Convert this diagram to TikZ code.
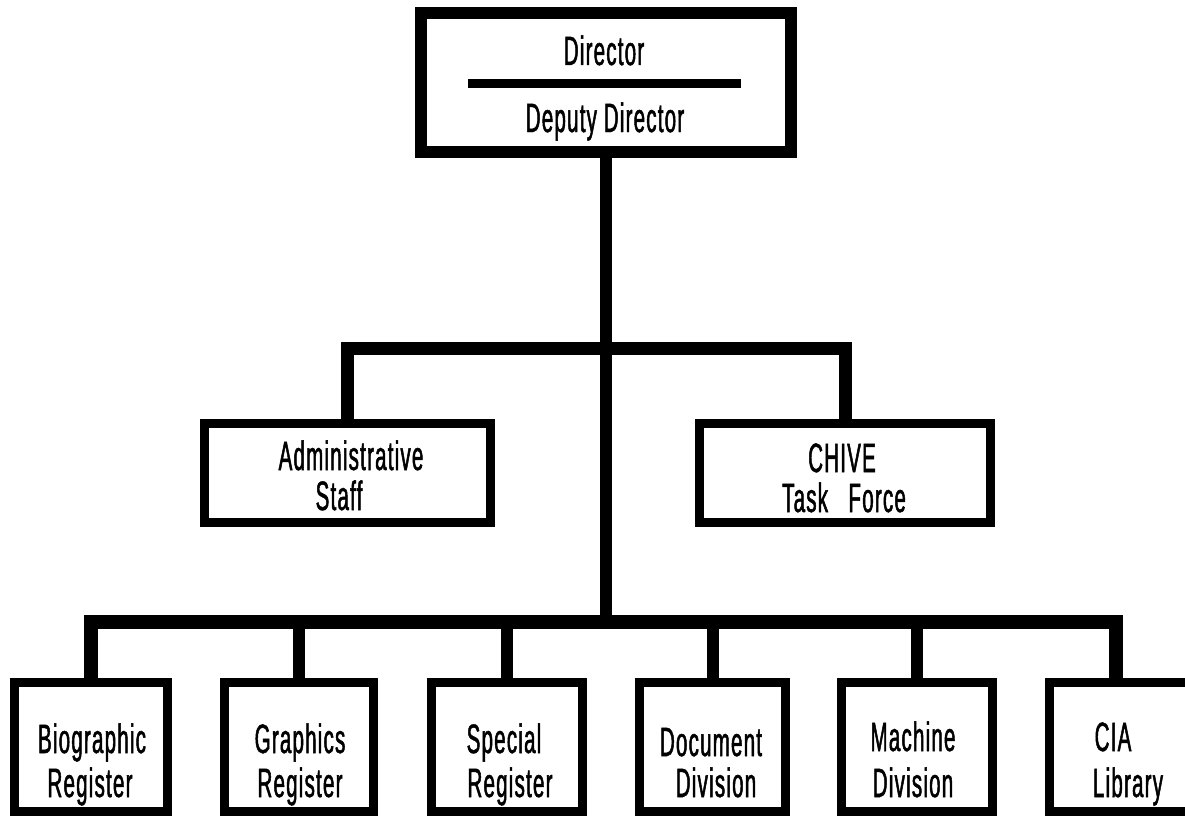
\documentclass[tikz,border=0pt]{standalone}
\usepackage{fontspec}
\setmainfont[FakeStretch=0.5,FakeBold=1.2,LetterSpace=3]{Liberation Sans}
\begin{document}
\begin{tikzpicture}[x=1pt,y=-1pt,
  topbox/.style={draw,line width=12pt,inner sep=0pt,minimum width=370pt,minimum height=139pt},
  midbox/.style={draw,line width=9pt,inner sep=0pt,minimum width=288pt,minimum height=99pt},
  lowbox/.style={draw,line width=9pt,inner sep=0pt,minimum height=129pt},
  lbl/.style={anchor=base,inner sep=0pt,font=\fontsize{41}{44}\selectfont},
  conn/.style={line width=13pt,line join=miter,line cap=butt}]
\clip (0,0) rectangle (1185,816);
\fill[white] (0,0) rectangle (1185,816);
% boxes
\node[topbox] (dir) at (606,82.5) {};
\node[midbox,minimum width=286pt] (adm) at (347.5,473) {};
\node[midbox,minimum width=291pt] (chv) at (845,473) {};
\node[lowbox,minimum width=153pt] (b1) at (91,747) {};
\node[lowbox,minimum width=149pt] (b2) at (299,747) {};
\node[lowbox,minimum width=151pt] (b3) at (507,747) {};
\node[lowbox,minimum width=146pt] (b4) at (712.5,747) {};
\node[lowbox,minimum width=151pt] (b5) at (917,747) {};
\node[lowbox,minimum width=146pt] (b6) at (1122.5,747) {};
% divider in top box
\coordinate (dl) at (468,83);
\coordinate (dr) at (741,83);
\draw[line width=9pt] (dl) -- (dr);
% labels
\node[lbl] (t0a) at (604,65) {Director};
\node[lbl] (t0b) at (605,132) {Deputy Director};
\node[lbl] (t1a) at (351,470) {Administrative};
\node[lbl] (t1b) at (339,510) {Staff};
\node[lbl] (t2a) at (842,472) {CHIVE};
\node[lbl] (t2b) at (844,512) {Task\hspace{0.5em}Force};
\node[lbl] (u1a) at (92,753) {Biographic};
\node[lbl] (u1b) at (90,797) {Register};
\node[lbl] (u2a) at (300,753) {Graphics};
\node[lbl] (u2b) at (300,797) {Register};
\node[lbl] (u3a) at (504,753) {Special};
\node[lbl] (u3b) at (510,797) {Register};
\node[lbl] (u4a) at (711,756) {Document};
\node[lbl] (u4b) at (716,797) {Division};
\node[lbl] (u5a) at (913,751) {Machine};
\node[lbl] (u5b) at (913,797) {Division};
\node[lbl] (u6a) at (1113,751) {CIA};
\node[lbl] (u6b) at (1128,797) {Library};
% connectors
\coordinate (midbar) at (605,348);
\coordinate (lowbar) at (605,622);
\coordinate (b6top) at (1116,678);
\draw[conn,line width=12pt] (dir.south) -- (dir.south |- lowbar);
\draw[conn] (adm.north) |- (midbar) -| (chv.north);
\draw[conn,line width=14pt] (b1.north) |- (lowbar) -| (b6top);
\draw[conn,line width=12pt] (b2.north) -- (b2.north |- lowbar);
\draw[conn,line width=12pt] (b3.north) -- (b3.north |- lowbar);
\draw[conn,line width=12pt] (b4.north) -- (b4.north |- lowbar);
\draw[conn,line width=12pt] (b5.north) -- (b5.north |- lowbar);
\end{tikzpicture}
\end{document}
